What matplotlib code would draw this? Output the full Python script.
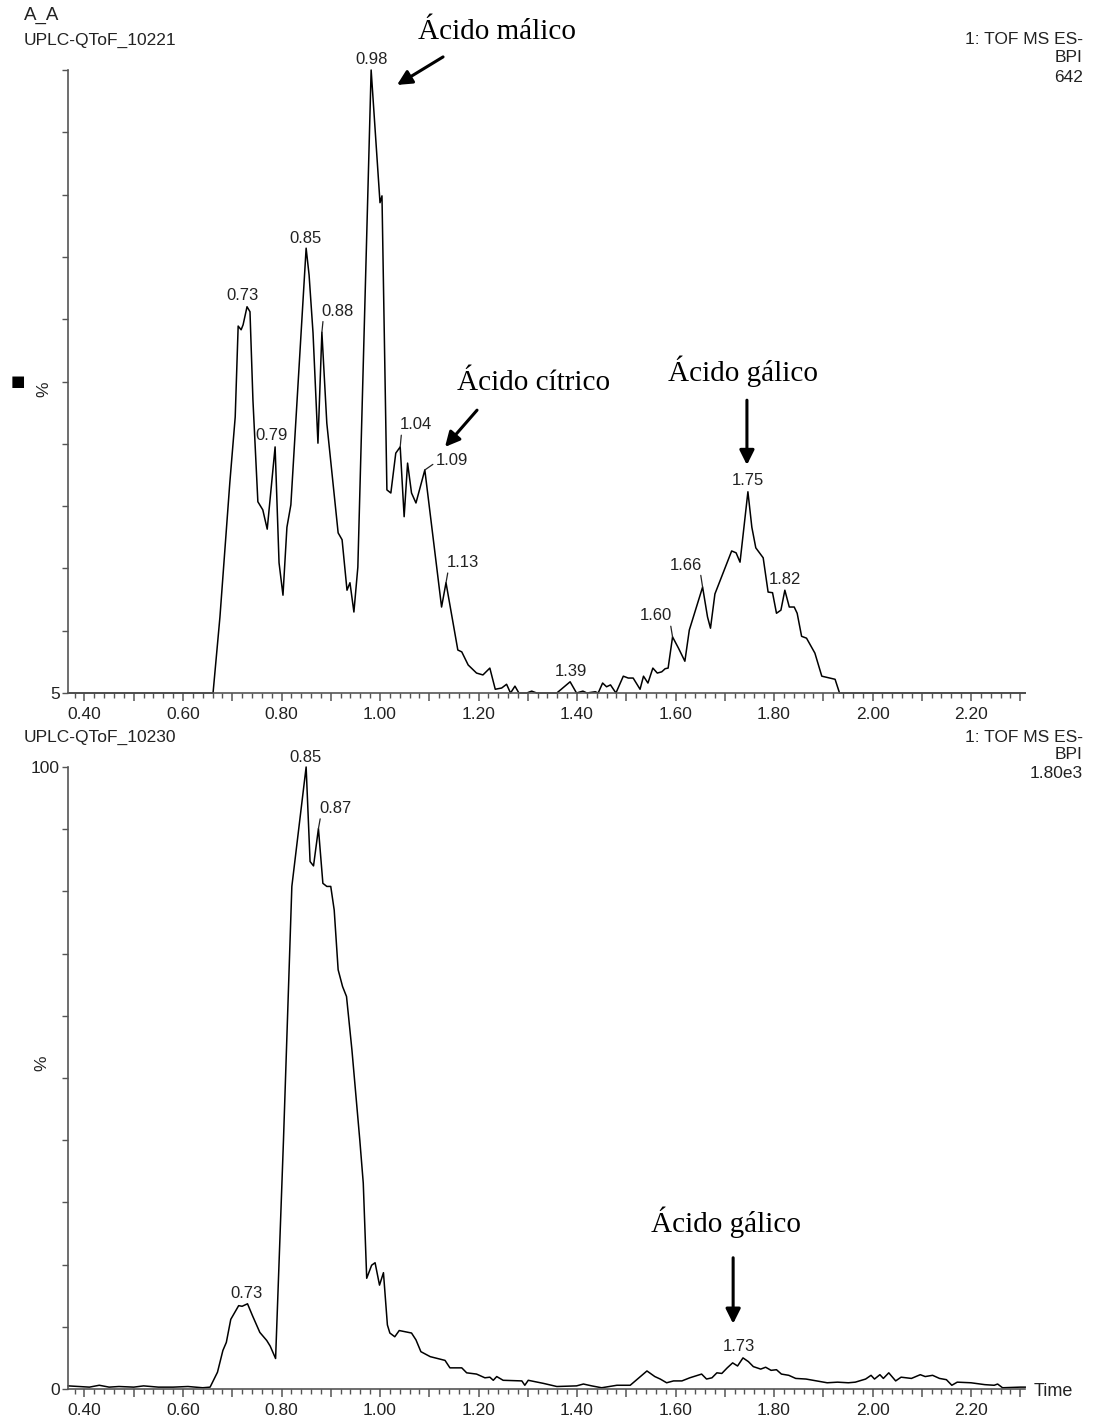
import numpy as np
import matplotlib
matplotlib.use('Agg')
import matplotlib.pyplot as plt
from matplotlib.ticker import MultipleLocator, FixedLocator, FuncFormatter

plt.rcParams['font.family'] = ['Liberation Sans', 'DejaVu Sans']

# ---------------- data ----------------
top_time = [0.367, 0.661, 0.675, 0.695, 0.706, 0.712, 0.718, 0.722, 0.730, 0.736,
            0.742, 0.752, 0.762, 0.771, 0.787, 0.795, 0.803, 0.811, 0.819, 0.850,
            0.856, 0.864, 0.874, 0.882, 0.892, 0.915, 0.923, 0.933, 0.939, 0.947,
            0.955, 0.982, 1.000, 1.004, 1.014, 1.022, 1.032, 1.041, 1.049, 1.056,
            1.064, 1.073, 1.091, 1.125, 1.134, 1.158, 1.166, 1.179, 1.196, 1.209,
            1.223, 1.234, 1.247, 1.257, 1.265, 1.274, 1.282, 1.298, 1.308, 1.318,
            1.359, 1.386, 1.399, 1.412, 1.420, 1.437, 1.443, 1.452, 1.460, 1.468,
            1.479, 1.494, 1.504, 1.514, 1.528, 1.535, 1.544, 1.554, 1.563, 1.572,
            1.579, 1.585, 1.594, 1.606, 1.619, 1.628, 1.655, 1.665, 1.671, 1.680,
            1.714, 1.723, 1.731, 1.747, 1.755, 1.763, 1.778, 1.788, 1.797, 1.805,
            1.814, 1.822, 1.831, 1.841, 1.847, 1.856, 1.866, 1.883, 1.897, 1.924,
            1.933, 2.310]
top_pct = [0.0, 0.0, 12.2, 33.7, 44.3, 58.9, 58.3, 59.1, 62.0, 61.2,
           47.0, 30.7, 29.4, 26.3, 39.5, 20.9, 15.7, 26.6, 30.2, 71.4,
           67.1, 57.8, 40.1, 57.9, 43.3, 25.7, 24.6, 16.5, 17.7, 13.0,
           20.2, 100.0, 78.7, 79.8, 32.6, 32.1, 38.5, 39.5, 28.3, 36.9,
           32.1, 30.5, 35.8, 13.8, 17.7, 6.9, 6.6, 4.5, 3.2, 2.9,
           4.0, 0.6, 0.8, 1.4, 0.0, 1.1, 0.0, 0.0, 0.3, 0.0,
           0.0, 1.8, 0.0, 0.3, 0.0, 0.2, 0.0, 1.6, 1.0, 1.3,
           0.0, 2.7, 2.4, 2.4, 0.6, 2.7, 1.6, 4.0, 3.2, 3.4,
           3.9, 4.0, 9.0, 7.2, 5.1, 10.1, 17.0, 12.2, 10.4, 15.9,
           22.8, 22.5, 21.0, 32.3, 26.6, 23.3, 21.7, 16.2, 16.1, 12.8,
           13.3, 16.5, 13.8, 13.8, 12.8, 9.1, 8.8, 6.4, 2.7, 2.2,
           0.0, 0.0]

bot_time = [0.367, 0.390, 0.410, 0.430, 0.450, 0.470, 0.500, 0.520, 0.550, 0.580,
            0.610, 0.640, 0.655, 0.670, 0.681, 0.688, 0.697, 0.713, 0.720, 0.731,
            0.741, 0.756, 0.770, 0.777, 0.788, 0.804, 0.821, 0.850, 0.858, 0.865,
            0.875, 0.884, 0.892, 0.900, 0.907, 0.915, 0.924, 0.932, 0.943, 0.959,
            0.966, 0.973, 0.983, 0.990, 0.999, 1.007, 1.015, 1.020, 1.030, 1.039,
            1.064, 1.073, 1.083, 1.102, 1.132, 1.142, 1.166, 1.176, 1.196, 1.213,
            1.223, 1.230, 1.237, 1.250, 1.288, 1.294, 1.301, 1.332, 1.359, 1.399,
            1.413, 1.430, 1.450, 1.481, 1.508, 1.542, 1.558, 1.569, 1.582, 1.596,
            1.613, 1.629, 1.653, 1.663, 1.674, 1.684, 1.694, 1.705, 1.716, 1.726,
            1.737, 1.748, 1.758, 1.773, 1.783, 1.794, 1.805, 1.815, 1.830, 1.844,
            1.865, 1.887, 1.908, 1.929, 1.951, 1.965, 1.986, 1.997, 2.004, 2.015,
            2.022, 2.033, 2.047, 2.058, 2.079, 2.097, 2.107, 2.122, 2.136, 2.150,
            2.161, 2.172, 2.200, 2.228, 2.247, 2.254, 2.264, 2.300, 2.310]
bot_pct = [0.5, 0.4, 0.3, 0.6, 0.3, 0.4, 0.3, 0.5, 0.3, 0.3,
           0.4, 0.2, 0.3, 2.7, 6.2, 7.5, 11.2, 13.4, 13.3, 13.7,
           11.8, 9.1, 7.8, 6.9, 4.9, 40.0, 80.8, 100.0, 84.8, 84.1,
           90.1, 81.3, 80.8, 80.8, 77.0, 67.4, 64.7, 63.1, 54.5, 40.0,
           33.1, 17.8, 19.9, 20.3, 16.7, 18.7, 10.3, 9.0, 8.4, 9.4,
           9.0, 7.9, 6.0, 5.2, 4.6, 3.4, 3.4, 2.6, 2.4, 1.8,
           1.9, 1.4, 2.0, 1.4, 1.3, 0.6, 1.4, 0.9, 0.4, 0.5,
           0.8, 0.5, 0.2, 0.6, 0.6, 2.9, 2.0, 1.6, 1.0, 1.3,
           1.3, 1.8, 2.4, 1.6, 1.8, 2.6, 2.5, 3.4, 4.2, 3.7,
           5.0, 4.4, 3.6, 3.2, 3.5, 3.0, 3.1, 2.4, 2.2, 1.7,
           1.6, 1.3, 1.0, 1.1, 1.0, 1.1, 1.6, 2.2, 1.6, 2.3,
           1.7, 2.6, 1.3, 1.9, 1.7, 2.3, 2.0, 2.2, 1.7, 1.5,
           0.6, 1.1, 1.0, 0.7, 0.6, 0.8, 0.2, 0.3, 0.3]

# peak labels: (retention time, dx px, dy px, leader relpos or None)
top_peaks = [0.73, 0.79, 0.85, 0.88, 0.98, 1.04, 1.09, 1.13, 1.39, 1.60, 1.66, 1.75, 1.82]
top_offsets = [(-5, 11, None), (-4, 11, None), (-1, 10, None), (16, 21, (0.05, 0.1)),
               (0, 11, None), (16, 22, (0.05, 0.1)), (27, 9, (0.0, 0.4)),
               (17, 20, (0.05, 0.1)), (1, 10, None), (-17, 21, (0.95, 0.1)),
               (-17, 22, (0.95, 0.1)), (0, 11, None), (0, 11, None)]
bot_peaks = [0.73, 0.85, 0.87, 1.73]
bot_offsets = [(-1, 10, None), (-1, 10, None), (17, 20, (0.05, 0.1)), (-4, 11, None)]

XLIM = (0.3665, 2.3096)
W, H = 1093, 1420


def fx(px):
    return px / W


def fy(py):
    return 1 - py / H


fig = plt.figure(figsize=(W / 100, H / 100), dpi=100)
ax1 = fig.add_axes([fx(68), fy(693), (1025 - 68) / W, (693 - 70) / H])
ax2 = fig.add_axes([fx(68), fy(1389), (1025 - 68) / W, (1389 - 767) / H])

spine_col = '#555555'
for ax in (ax1, ax2):
    ax.set_xlim(*XLIM)
    ax.set_ylim(0, 100)
    for s in ('top', 'right'):
        ax.spines[s].set_visible(False)
    for s in ('left', 'bottom'):
        ax.spines[s].set_color(spine_col)
        ax.spines[s].set_linewidth(1.2)
    ax.xaxis.set_major_locator(MultipleLocator(0.1))
    ax.xaxis.set_minor_locator(MultipleLocator(0.02))
    ax.xaxis.set_major_formatter(FuncFormatter(
        lambda v, p: ('%.2f' % v) if abs(round(v * 10) % 2) == 0 else ''))
    ax.tick_params(axis='x', which='major', length=6, width=1.1, color=spine_col,
                   labelsize=12.5, labelcolor='#222222', pad=4)
    ax.tick_params(axis='x', which='minor', length=3.5, width=1.0, color=spine_col)
    ax.yaxis.set_major_locator(FixedLocator(np.arange(0, 101, 10)))
    ax.tick_params(axis='y', which='major', length=4, width=1.0, color=spine_col,
                   labelsize=12.5, labelcolor='#222222', pad=2)

ax1.yaxis.set_major_formatter(FuncFormatter(lambda v, p: '5' if v == 0 else ''))
ax2.yaxis.set_major_formatter(FuncFormatter(
    lambda v, p: '100' if v == 100 else ('0' if v == 0 else '')))

ax1.plot(top_time, top_pct, color='black', lw=1.1, clip_on=False)
ax2.plot(bot_time, bot_pct, color='black', lw=1.1, clip_on=False)


def label_peaks(ax, t, y, peaks, offsets):
    t = np.asarray(t)
    y = np.asarray(y)
    for pk, (dx, dy, rel) in zip(peaks, offsets):
        m = np.abs(t - pk) <= 0.012
        idx = np.where(m)[0][np.argmax(y[m])]
        kw = {}
        if rel is not None:
            kw['arrowprops'] = dict(arrowstyle='-', lw=0.9, color='#222222',
                                    shrinkA=0, shrinkB=0, relpos=rel)
        ax.annotate('%.2f' % pk, xy=(t[idx], y[idx]), xytext=(dx * 0.72, dy * 0.72),
                    textcoords='offset points', ha='center', va='center',
                    fontsize=12, color='#222222', annotation_clip=False, **kw)


label_peaks(ax1, top_time, top_pct, top_peaks, top_offsets)
label_peaks(ax2, bot_time, bot_pct, bot_peaks, bot_offsets)

arrow_kw = dict(arrowstyle='-|>', lw=2.2, color='black', mutation_scale=22,
                shrinkA=0, shrinkB=0)
serif = ['Liberation Serif', 'DejaVu Serif']
name_fs = 21

# compound names with arrows (data coords: time, %)
ax1.annotate('', xy=(1.0345, 97.6), xytext=(1.128, 102.1), arrowprops=arrow_kw,
             annotation_clip=False)
ax1.text(1.238, 106.1, 'Ácido málico', family=serif, fontsize=name_fs, ha='center',
         va='center', clip_on=False)
ax1.annotate('', xy=(1.132, 39.5), xytext=(1.197, 45.4), arrowprops=arrow_kw,
             annotation_clip=False)
ax1.text(1.311, 49.8, 'Ácido cítrico', family=serif, fontsize=name_fs, ha='center',
         va='center')
ax1.annotate('', xy=(1.745, 36.6), xytext=(1.745, 47.0), arrowprops=arrow_kw,
             annotation_clip=False)
ax1.text(1.737, 51.6, 'Ácido gálico', family=serif, fontsize=name_fs, ha='center',
         va='center')
ax2.annotate('', xy=(1.717, 10.5), xytext=(1.717, 21.1), arrowprops=arrow_kw,
             annotation_clip=False)
ax2.text(1.703, 26.8, 'Ácido gálico', family=serif, fontsize=name_fs, ha='center',
         va='center')

# header texts
tc = '#222222'
hf = 12.5
fig.text(fx(24), fy(15), 'A_A', fontsize=13.5, color=tc, va='center', ha='left')
fig.text(fx(24), fy(40), 'UPLC-QToF_10221', fontsize=hf, color=tc, va='center', ha='left')
fig.text(fx(1083), fy(40), '1: TOF MS ES-', fontsize=hf, color=tc, va='center', ha='right')
fig.text(fx(1083), fy(58), 'BPI', fontsize=hf, color=tc, va='center', ha='right')
fig.text(fx(1083), fy(77), '642', fontsize=hf, color=tc, va='center', ha='right')

fig.text(fx(24), fy(737), 'UPLC-QToF_10230', fontsize=hf, color=tc, va='center', ha='left')
fig.text(fx(1083), fy(737), '1: TOF MS ES-', fontsize=hf, color=tc, va='center', ha='right')
fig.text(fx(1083), fy(755), 'BPI', fontsize=hf, color=tc, va='center', ha='right')
fig.text(fx(1083), fy(773), '1.80e3', fontsize=hf, color=tc, va='center', ha='right')

fig.text(fx(44), fy(389), '%', fontsize=12.5, color=tc, rotation=90, va='center', ha='center')
fig.text(fx(18), fy(381), '■', fontsize=11, color='black', va='center', ha='center',
         family=['DejaVu Sans'])
fig.text(fx(42), fy(1063), '%', fontsize=12.5, color=tc, rotation=90, va='center', ha='center')
fig.text(fx(1034), fy(1392), 'Time', fontsize=13, color=tc, va='center', ha='left')

fig.savefig('out.png', dpi=100, facecolor='white')
